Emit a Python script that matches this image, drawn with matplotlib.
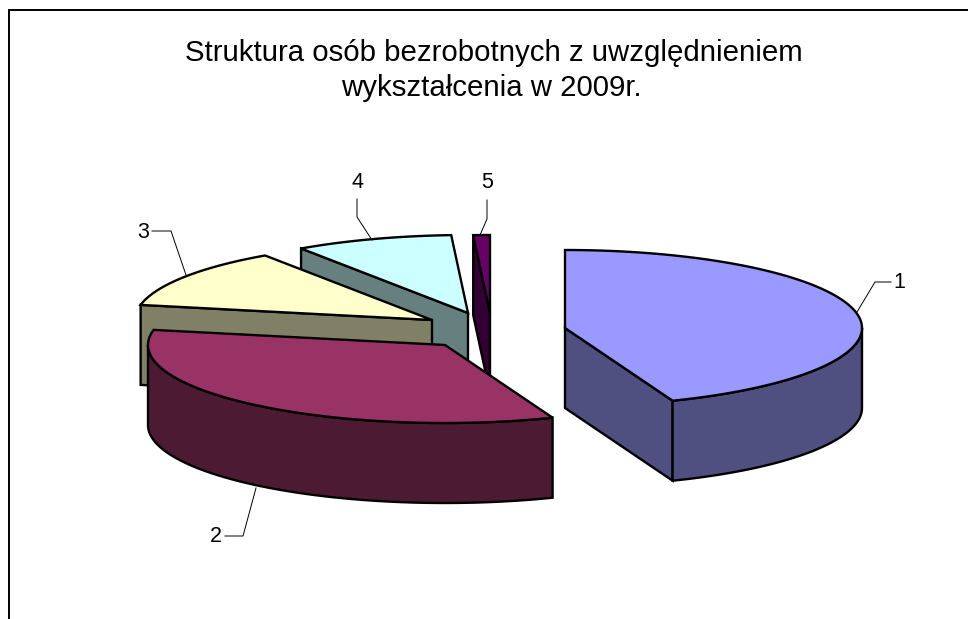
import numpy as np
import matplotlib
matplotlib.use("Agg")
import matplotlib.pyplot as plt
from matplotlib.patches import Polygon

# data
categories = ["1", "2", "3", "4", "5"]
shares = [44.1, 34.0, 12.4, 8.6, 0.9]

# style
top_colors = ["#9999FF", "#993366", "#FFFFCC", "#CCFFFF", "#660066"]
side_colors = ["#4F4F80", "#4D1A33", "#808066", "#668080", "#330033"]
centers = [(565, 328), (445, 345), (432, 320), (468, 313), (490, 313)]
RX, RY, DEPTH = 297, 78, 80
LW = 1.7
draw_order = [3, 4, 2, 1, 0]
label_pos = [(899, 283), (216, 536), (143, 232), (357, 182), (487, 183)]
leaders = [
    [(891, 282), (875, 282), (857, 312)],
    [(225, 536), (243, 536), (256, 488)],
    [(152, 231), (171, 231), (186, 275)],
    [(357, 199), (357, 217), (372, 240)],
    [(487, 200), (487, 219), (480, 235)],
]

plt.rcParams["font.family"] = ["Liberation Sans", "DejaVu Sans"]
fig = plt.figure(figsize=(9.68, 6.19), dpi=100)
ax = fig.add_axes([0, 0, 1, 1])
ax.set_xlim(0, 968)
ax.set_ylim(619, 0)
ax.axis("off")

# chart frame (runs off the right and bottom edges)
ax.plot([8.5, 8.5, 968], [619, 9.5, 9.5], color="black", lw=1.4, solid_joinstyle="miter")


def rim(c, t0, t1, dy=0.0):
    t = np.radians(np.linspace(t0, t1, max(int(abs(t1 - t0) * 2), 2)))
    return np.column_stack([c[0] + RX * np.sin(t), c[1] - RY * np.cos(t) + dy])


def poly(pts, color, z):
    ax.add_patch(Polygon(pts, closed=True, facecolor=color, edgecolor="black",
                         lw=LW, joinstyle="miter", zorder=z))


edges = np.concatenate([[0], np.cumsum(shares) / np.sum(shares) * 360])

for rank, i in enumerate(draw_order):
    c = centers[i]
    t0, t1 = edges[i], edges[i + 1]
    z = 2 + rank
    apex = np.array([c])
    # cut faces turned towards the viewer
    for t, normal in ((t0, t0 - 90), (t1, t1 + 90)):
        if np.cos(np.radians(normal)) < -1e-6:
            edge = np.vstack([apex, rim(c, t, t)[:1]])
            low = edge + [0, DEPTH]
            poly(np.vstack([edge, low[::-1]]), side_colors[i], z)
    # outer wall on the near half of the ellipse
    a, b = max(t0, 90), min(t1, 270)
    if a < b:
        upper = rim(c, a, b)
        poly(np.vstack([upper, (upper + [0, DEPTH])[::-1]]), side_colors[i], z)
    # top face
    poly(np.vstack([apex, rim(c, t0, t1)]), top_colors[i], z)

for name, p, leader in zip(categories, label_pos, leaders):
    ax.text(p[0], p[1], name, fontsize=15.5, ha="center", va="center", color="black", zorder=20)
    xs, ys = zip(*leader)
    ax.plot(xs, ys, color="black", lw=0.7, zorder=19)

ax.text(494, 53, "Struktura osób bezrobotnych z uwzględnieniem", fontsize=21.2,
        ha="center", va="center", color="black")
ax.text(491, 88.5, "wykształcenia w 2009r.", fontsize=21.2,
        ha="center", va="center", color="black")

fig.savefig("out.png", dpi=100)
